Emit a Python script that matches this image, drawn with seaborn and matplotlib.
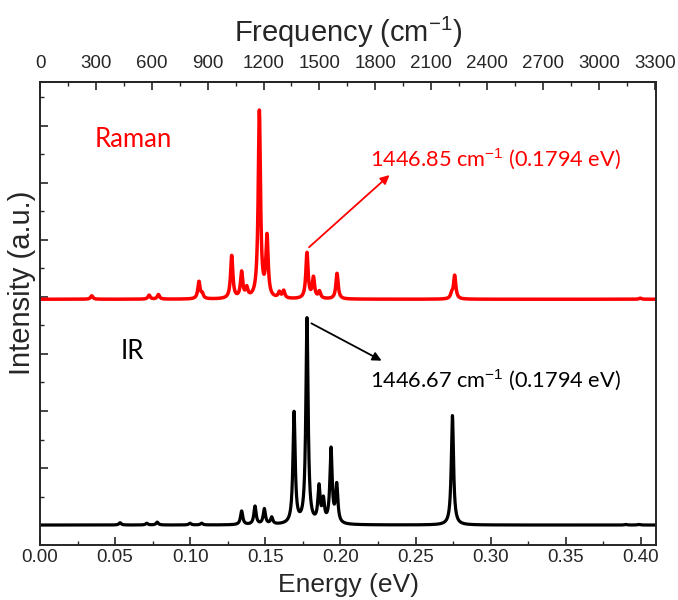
import numpy as np
import pandas as pd
import matplotlib
matplotlib.use("Agg")
import matplotlib.pyplot as plt
import seaborn as sns
from matplotlib.ticker import MultipleLocator

# ---------------- data ----------------
raman_centers = [0.0344, 0.0726, 0.0788, 0.1058, 0.1080, 0.1276, 0.1342, 0.1376,
                 0.1460, 0.1511, 0.1593, 0.1622, 0.1777, 0.1820, 0.1860, 0.1977,
                 0.2740, 0.2760, 0.3995]
raman_heights = [0.06, 0.07, 0.08, 0.30, 0.08, 0.75, 0.45, 0.16,
                 3.28, 1.05, 0.10, 0.13, 0.80, 0.36, 0.12, 0.45,
                 0.08, 0.41, 0.02]
ir_centers = [0.0533, 0.0710, 0.0780, 0.0998, 0.1076, 0.1342, 0.1431, 0.1493,
              0.1542, 0.1691, 0.1777, 0.1857, 0.1886, 0.1937, 0.1975, 0.2745,
              0.3900, 0.3985]
ir_heights = [0.04, 0.03, 0.05, 0.03, 0.03, 0.24, 0.32, 0.27,
              0.12, 1.95, 3.60, 0.62, 0.38, 1.30, 0.66, 1.92,
              0.01, 0.01]
raman_offset = 3.96
hwhm = 0.0009  # Lorentzian broadening (eV)

energy_ticks = [0.00, 0.05, 0.10, 0.15, 0.20, 0.25, 0.30, 0.35, 0.40]
freq_ticks = [0, 300, 600, 900, 1200, 1500, 1800, 2100, 2400, 2700, 3000, 3300]
EV_TO_CM = 8065.54

# ---------------- build spectra ----------------
E = np.linspace(0.0, 0.41, 6000)

def broaden(centers, heights):
    y = np.zeros_like(E)
    for c, h in zip(centers, heights):
        y += h / (1.0 + ((E - c) / hwhm) ** 2)
    return y

df = pd.concat([
    pd.DataFrame({"Energy": E, "Intensity": broaden(raman_centers, raman_heights) + raman_offset, "kind": "Raman"}),
    pd.DataFrame({"Energy": E, "Intensity": broaden(ir_centers, ir_heights), "kind": "IR"}),
])

# ---------------- style ----------------
sns.set_theme(style="ticks")
plt.rcParams["font.family"] = ["Liberation Sans", "DejaVu Sans"]
plt.rcParams["mathtext.fontset"] = "custom"
plt.rcParams["mathtext.rm"] = "Liberation Sans"
plt.rcParams["axes.linewidth"] = 1.4

fig = plt.figure(figsize=(6.78, 6.0), dpi=100)
ax = fig.add_axes([40 / 678, 55 / 600, 616 / 678, 463 / 600])

sns.lineplot(data=df[df.kind == "Raman"], x="Energy", y="Intensity", ax=ax,
             color="#ff0000", lw=2.5, estimator=None, sort=False)
sns.lineplot(data=df[df.kind == "IR"], x="Energy", y="Intensity", ax=ax,
             color="black", lw=2.3, estimator=None, sort=False)

ax.set_xlim(0, 0.41)
ax.set_ylim(-0.35, 7.77)

tick_font = ["Liberation Sans Narrow", "Liberation Sans", "DejaVu Sans"]
ax.set_xticks(energy_ticks)
ax.set_xticklabels([f"{t:.2f}" for t in energy_ticks], family=tick_font, fontsize=13.5)
ax.xaxis.set_minor_locator(MultipleLocator(0.025))
ax.yaxis.set_major_locator(MultipleLocator(1))
ax.yaxis.set_minor_locator(MultipleLocator(0.5))
ax.set_yticklabels([])
ax.tick_params(axis="both", which="major", direction="in", length=6, width=1.2, pad=3)
ax.tick_params(axis="both", which="minor", direction="in", length=3, width=1.0)
ax.tick_params(axis="y", which="both", right=False, labelleft=False)

ax.set_xlabel("Energy (eV)", fontsize=19)
ax.xaxis.set_label_coords(0.5, -0.086, transform=ax.transAxes)
ax.xaxis.label.set_va("center")
ax.set_ylabel("Intensity (a.u.)", fontsize=21)
ax.yaxis.set_label_coords(-0.03, 0.566, transform=ax.transAxes)
ax.yaxis.label.set_va("center")

top = ax.secondary_xaxis("top", functions=(lambda x: x * EV_TO_CM, lambda f: f / EV_TO_CM))
top.set_xticks(freq_ticks)
top.set_xticklabels([str(t) for t in freq_ticks], family=tick_font, fontsize=13.5)
top.xaxis.set_minor_locator(MultipleLocator(150))
top.tick_params(axis="x", which="major", direction="in", length=6, width=1.2, pad=7)
top.tick_params(axis="x", which="minor", direction="in", length=3, width=1.0)
top.set_xlabel("Frequency (cm$^{-1}$)", fontsize=21)
top.xaxis.set_label_coords(0.5, 1.108, transform=ax.transAxes)
top.xaxis.label.set_va("center")

ann_font = ["Lato", "DejaVu Sans"]
ax.text(0.0366, 6.77, "Raman", color="#ff0000", fontsize=18.5, family=ann_font, va="center", ha="left")
ax.text(0.0539, 3.05, "IR", color="black", fontsize=18.5, family=ann_font, va="center", ha="left")

ax.annotate("", xy=(0.234, 6.17), xytext=(0.1777, 4.84),
            arrowprops=dict(arrowstyle="-|>", color="#ff0000", lw=1.3, mutation_scale=13))
ax.text(0.2196, 6.42, "1446.85 cm$^{-1}$ (0.1794 eV)", color="#ff0000", fontsize=15.7,
        family=ann_font, va="center", ha="left")

ax.annotate("", xy=(0.229, 2.86), xytext=(0.179, 3.56),
            arrowprops=dict(arrowstyle="-|>", color="black", lw=1.3, mutation_scale=13))
ax.text(0.2196, 2.54, "1446.67 cm$^{-1}$ (0.1794 eV)", color="black", fontsize=15.7,
        family=ann_font, va="center", ha="left")

fig.savefig("out.png", dpi=100)
